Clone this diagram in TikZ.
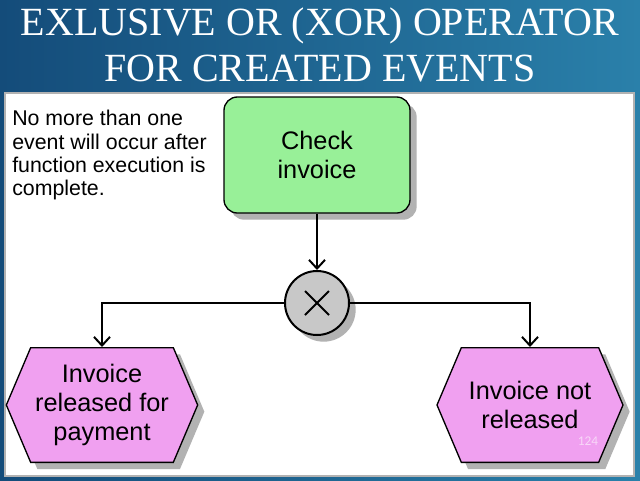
\documentclass[tikz,border=0pt]{standalone}
\usepackage{fontspec}
\setmainfont{Liberation Serif}
\setsansfont{Liberation Sans}
\newfontfamily\numfont{Carlito}
\usetikzlibrary{positioning, shapes.symbols, arrows.meta, shadows}
\definecolor{hdrdark}{RGB}{20,76,122}
\definecolor{hdrlight}{RGB}{42,128,170}
\definecolor{fngreen}{RGB}{152,240,152}
\definecolor{evpink}{RGB}{240,160,240}
\definecolor{xorgray}{RGB}{200,200,200}
\definecolor{pagenum}{RGB}{248,215,248}

\tikzset{
  flowline/.style={line width=1.5pt, -{Straight Barb[length=6.5pt, width=12pt, line width=1.5pt]}},
  eshadow/.style={drop shadow={shadow xshift=5pt, shadow yshift=-5pt, fill=black!30, opacity=1}},
  boxtext/.style={align=center, font=\sffamily\fontsize{19}{22}\selectfont},
}

\begin{document}
\begin{tikzpicture}[x=0.75pt, y=-0.75pt]
% Background
\fill[left color=hdrdark, right color=hdrlight] (0,0) rectangle (640,480);
\useasboundingbox (0,0) rectangle (640,480);
\draw[fill=white, draw=gray!60, line width=1pt] (5,93) rectangle (634,476);

% Title
\node[text=white, font=\fontsize{30}{34.5}\selectfont, align=center] (title) at (320,45) {EXLUSIVE OR (XOR) OPERATOR\\FOR CREATED EVENTS};

% Note
\node[anchor=north west, align=left, inner sep=0pt, font=\sffamily\fontsize{16}{17.5}\selectfont] (note) at (12,110) {No more than one\\event will occur after\\function execution is\\complete.};

% Function
\node[rectangle, rounded corners=10pt, draw, line width=1pt, fill=fngreen, eshadow, minimum width=139.5pt, minimum height=87pt, boxtext] (check) at (317,155) {Check\\invoice};

% XOR operator
\node[circle, draw, line width=1.5pt, fill=xorgray, eshadow, minimum size=48pt, inner sep=0pt] (xor) at (317,303) {};
\draw[line width=1.5pt] ([shift={(-12,-12)}]xor.center) -- ([shift={(12,12)}]xor.center);
\draw[line width=1.5pt] ([shift={(-12,12)}]xor.center) -- ([shift={(12,-12)}]xor.center);

% Events
\node[signal, signal to=east and west, signal pointer angle=134, draw, line width=1pt, fill=evpink, eshadow, minimum width=142.5pt, minimum height=86pt, boxtext] (released) at (102,405) {Invoice\\released for\\payment};
\node[signal, signal to=east and west, signal pointer angle=134, draw, line width=1pt, fill=evpink, eshadow, minimum width=139.5pt, minimum height=86pt, boxtext] (notreleased) at (530,405) {Invoice not\\released};

% Connectors
\draw[flowline] (check) -- (xor);
\draw[flowline] (xor.west) -| (released.north);
\draw[flowline] (xor.east) -| (notreleased.north);

% Slide number
\node[text=pagenum, font=\numfont\fontsize{10}{12}\selectfont] (pgnum) at (588,441) {124};
\end{tikzpicture}
\end{document}
